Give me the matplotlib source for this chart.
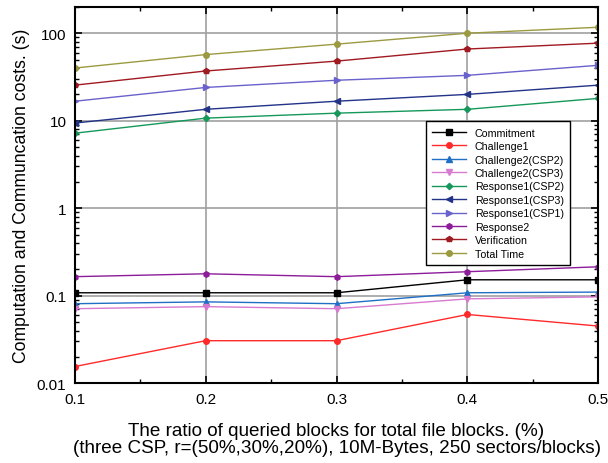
import numpy as np
import matplotlib.pyplot as plt
from matplotlib.ticker import FixedLocator, LogLocator, NullFormatter, FixedFormatter

plt.rcParams['font.family'] = ['Liberation Sans', 'DejaVu Sans']

ratio = [0.1, 0.2, 0.3, 0.4, 0.5]

commitment = [0.108, 0.108, 0.108, 0.152, 0.152]
challenge1 = [0.0155, 0.0306, 0.0306, 0.061, 0.045]
challenge2_csp2 = [0.081, 0.085, 0.081, 0.108, 0.110]
challenge2_csp3 = [0.071, 0.075, 0.071, 0.092, 0.097]
response1_csp2 = [7.2, 10.7, 12.2, 13.5, 18.0]
response1_csp3 = [9.4, 13.5, 16.7, 20.0, 25.5]
response1_csp1 = [16.7, 24.0, 29.0, 33.0, 43.0]
response2 = [0.165, 0.178, 0.165, 0.188, 0.214]
verification = [25.5, 37.0, 48.0, 66.0, 77.0]
total_time = [40.0, 57.0, 75.0, 100.0, 117.0]

series = [
    ("Commitment", commitment, "black", "s"),
    ("Challenge1", challenge1, "#ff2a2a", "o"),
    ("Challenge2(CSP2)", challenge2_csp2, "#1f6fc5", "^"),
    ("Challenge2(CSP3)", challenge2_csp3, "#d77ad0", "v"),
    ("Response1(CSP2)", response1_csp2, "#15985a", "D"),
    ("Response1(CSP3)", response1_csp3, "#223388", "<"),
    ("Response1(CSP1)", response1_csp1, "#6a62cc", ">"),
    ("Response2", response2, "#8c1c9a", "h"),
    ("Verification", verification, "#a01a22", "p"),
    ("Total Time", total_time, "#9c9a40", "o"),
]

fig = plt.figure(figsize=(6.08, 4.64), dpi=100)
ax = fig.add_axes([0.123, 0.172, 0.861, 0.811])

for name, vals, col, mk in series:
    ms = 4.0 if mk != "D" else 3.2
    ax.plot(ratio, vals, color=col, marker=mk, markersize=ms, linewidth=1.0, label=name)

ax.set_yscale("log")
ax.set_xlim(0.1, 0.5)
ax.set_ylim(0.01, 200)
ax.xaxis.set_major_locator(FixedLocator(ratio))
ax.xaxis.set_minor_locator(FixedLocator([0.15, 0.25, 0.35, 0.45]))
ax.set_xticklabels(["0.1", "0.2", "0.3", "0.4", "0.5"])
ax.yaxis.set_major_locator(FixedLocator([0.01, 0.1, 1, 10, 100]))
ax.yaxis.set_major_formatter(FixedFormatter(["0.01", "0.1", "1", "10", "100"]))
ax.yaxis.set_minor_locator(LogLocator(base=10, subs=np.arange(2, 10), numticks=20))
ax.yaxis.set_minor_formatter(NullFormatter())

ax.grid(True, which="major", color="#a0a0a0", linewidth=1.2)
ax.tick_params(which="both", direction="in", top=True, right=True, labelsize=11)
ax.tick_params(which="major", length=5, width=1.2, pad=6)
ax.tick_params(which="minor", length=3, width=1.0)
for sp in ax.spines.values():
    sp.set_linewidth(1.5)

ax.set_ylabel("Computation and Communcation costs. (s)", fontsize=12.7, labelpad=5)
ax.set_xlabel("The ratio of queried blocks for total file blocks. (%)\n"
              "(three CSP, r=(50%,30%,20%), 10M-Bytes, 250 sectors/blocks)",
              fontsize=13.6, labelpad=12, linespacing=1.0)

leg = ax.legend(loc="upper left", bbox_to_anchor=(0.66, 0.71), fontsize=7.7,
                frameon=True, fancybox=False, edgecolor="black", framealpha=1,
                handlelength=3.2, labelspacing=0.32, borderpad=0.6)
leg.get_frame().set_linewidth(1.0)

fig.savefig("out.png", dpi=100)
